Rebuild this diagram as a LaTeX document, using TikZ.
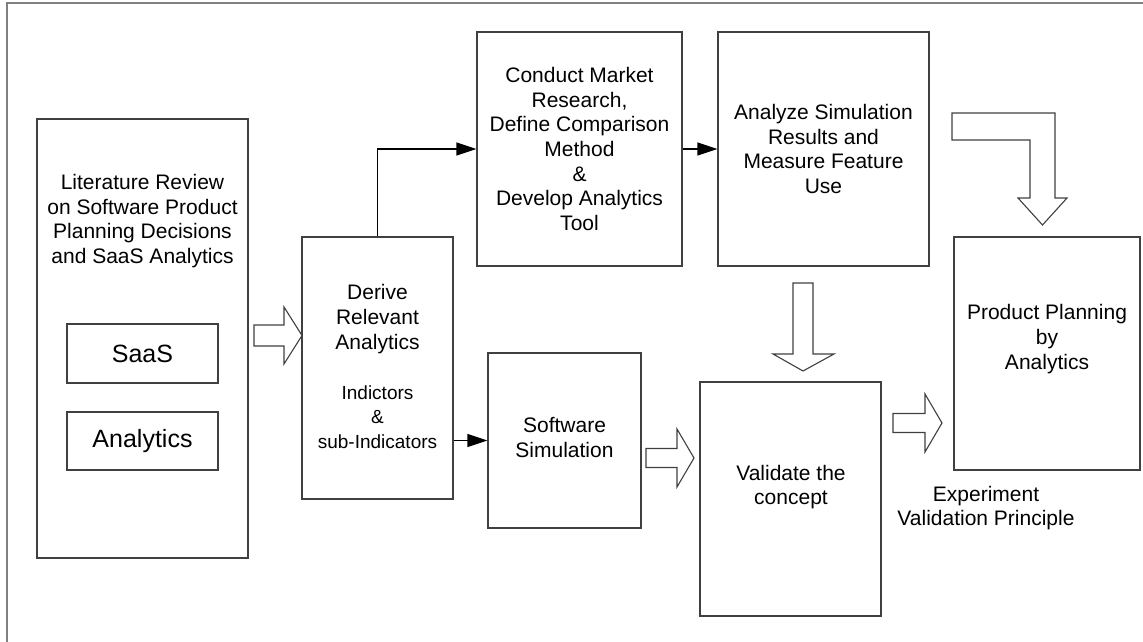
\documentclass[tikz,border=0pt]{standalone}
\usepackage{fontspec}
\setmainfont{Liberation Sans}
\usetikzlibrary{arrows.meta}
\definecolor{boxline}{HTML}{404040}
\definecolor{frameline}{HTML}{808080}
\tikzset{
  box/.style={draw=boxline, line width=1.2pt, inner sep=0pt, fill=white},
  txt/.style={inner sep=0pt, align=center, font=\fontsize{21}{24.7}\selectfont},
  smalltxt/.style={inner sep=0pt, align=center, font=\fontsize{19}{24.5}\selectfont},
  bigtxt/.style={font=\fontsize{25}{30}\selectfont},
  conn/.style={draw=black, line width=1.3pt, -{Triangle[length=20pt,width=13pt]}},
  blockarrow/.style={draw=boxline, line width=1.1pt, fill=white, line join=miter}
}
\begin{document}
\begin{tikzpicture}[x=1pt,y=-1pt]
\useasboundingbox (0,0) rectangle (1143,642);
% outer frame (cut at right and bottom)
\draw[frameline, line width=1.5pt] (7,642) -- (7,3) -- (1143,3);

% boxes
\node[box, minimum width=211pt, minimum height=439pt] (lit) at (142.5,338.5) {};
\node[box, minimum width=151pt, minimum height=59pt, bigtxt] (saas) at (142.5,353.5) {SaaS};
\node[box, minimum width=151pt, minimum height=58pt, bigtxt] (analytics) at (142.5,441) {Analytics};
\node[box, minimum width=151pt, minimum height=262pt] (derive) at (377.5,368) {};
\node[box, minimum width=205pt, minimum height=234pt, txt] (conduct) at (579.5,149)
  {Conduct Market\\Research,\\Define Comparison\\Method\\\&\\Develop Analytics\\Tool};
\node[box, minimum width=211pt, minimum height=234pt, txt] (analyze) at (823.5,149)
  {Analyze Simulation\\Results and\\Measure Feature\\Use};
\node[box, minimum width=153pt, minimum height=175pt] (soft) at (564.5,440.5) {};
\node[box, minimum width=181pt, minimum height=234pt] (validate) at (790.5,499) {};
\node[box, minimum width=186pt, minimum height=233pt] (product) at (1047,353.5) {};

% texts
\node[txt] (littext) at (142.5,221) {Literature Review\\on Software Product\\Planning Decisions\\and SaaS Analytics};
\node[txt] (derivetext) at (377.5,319) {Derive\\Relevant\\Analytics};
\node[smalltxt] (indtext) at (377.5,417) {Indictors\\\&\\sub-Indicators};
\node[txt] (softtext) at (564.5,437.5) {Software\\Simulation};
\node[txt] (valtext) at (791,487) {Validate the\\concept};
\node[txt] (prodtext) at (1047,339) {Product Planning\\by\\Analytics};
\node[txt] (exptext) at (986,508) {Experiment\\Validation Principle};

% thin connectors
\draw[conn] (derive.north) |- (conduct.west);
\draw[conn] (conduct.east) -- (analyze.west);
\draw[conn] (soft.west -| derive.east) -- (soft.west);

% block arrows
\draw[blockarrow] (254,325) -- (284,325) -- (284,307) -- (302,335.5) -- (284,364) -- (284,346) -- (254,346) -- cycle;
\draw[blockarrow] (646,448.5) -- (677,448.5) -- (677,429) -- (694,458) -- (677,487) -- (677,467.5) -- (646,467.5) -- cycle;
\draw[blockarrow] (793,283) -- (813,283) -- (813,354) -- (834,354) -- (803,371) -- (773,354) -- (793,354) -- cycle;
\draw[blockarrow] (893,413.5) -- (925,413.5) -- (925,394) -- (942,423) -- (925,452) -- (925,432.5) -- (893,432.5) -- cycle;
\draw[blockarrow] (952,113) -- (1055,113) -- (1055,198) -- (1067,198) -- (1042.5,225) -- (1018,198) -- (1030,198) -- (1030,140) -- (952,140) -- cycle;
\end{tikzpicture}
\end{document}
